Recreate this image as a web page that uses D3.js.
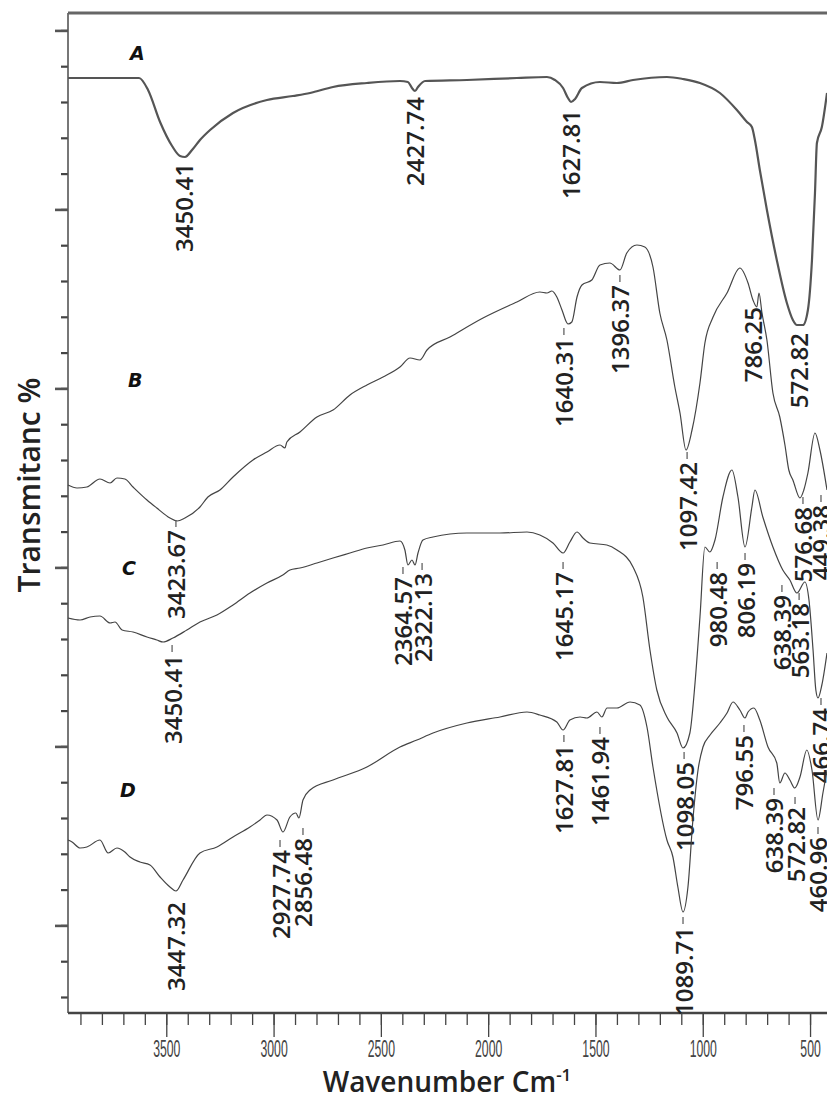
<!DOCTYPE html>
<html>
<head>
<meta charset="utf-8">
<script src="https://cdn.jsdelivr.net/npm/d3@7"></script>
<style>
  html, body { margin: 0; padding: 0; background: #fff; }
  svg { display: block; }
</style>
</head>
<body>
<svg id="chart"></svg>
<script>
// FTIR spectra, [wavenumber cm-1, transmittance (arbitrary, stacked)]
const spectrumA = [
  [3958, 93.5], [3627, 93.5], [3585, 92.3], [3529, 89.1], [3473, 86.7], [3436, 85.7],
  [3413, 85.6], [3380, 86.3], [3343, 87.3], [3296, 88.3], [3189, 90.0], [3031, 91.3],
  [2910, 91.7], [2830, 92.0], [2723, 92.6], [2565, 93.0], [2411, 93.2], [2374, 93.1],
  [2355, 92.5], [2341, 92.2], [2327, 92.6], [2294, 93.2], [2099, 93.3], [1866, 93.5],
  [1726, 93.6], [1689, 93.3], [1651, 92.5], [1628, 91.5], [1614, 91.1], [1595, 91.4],
  [1563, 92.5], [1479, 93.1], [1400, 93.0], [1325, 93.3], [1167, 93.6], [1092, 93.4],
  [1013, 93.0], [920, 92.0], [841, 90.3], [794, 89.1], [771, 88.6], [757, 87.3],
  [734, 84.3], [701, 80.3], [655, 75.3], [608, 71.0], [580, 69.3], [561, 68.8],
  [533, 68.8], [510, 70.3], [491, 75.3], [477, 82.0], [468, 87.0], [445, 88.6], [421, 92.0]
];
const spectrumB = [
  [3958, 52.8], [3916, 52.5], [3870, 52.6], [3809, 53.4], [3762, 53.0], [3730, 53.5],
  [3693, 53.4], [3655, 52.6], [3590, 51.3], [3544, 50.5], [3483, 49.5], [3450, 49.2],
  [3413, 49.5], [3343, 50.6], [3306, 51.6], [3250, 52.3], [3189, 53.6], [3096, 55.3],
  [3031, 56.1], [2970, 56.8], [2947, 56.5], [2938, 57.1], [2877, 58.1], [2798, 59.6],
  [2723, 60.3], [2644, 61.8], [2565, 62.8], [2490, 63.6], [2411, 64.6], [2364, 65.5],
  [2318, 65.3], [2285, 66.3], [2178, 67.6], [2024, 69.5], [1866, 71.1], [1759, 72.1],
  [1726, 72.0], [1703, 72.2], [1680, 71.6], [1656, 70.3], [1628, 68.9], [1610, 69.1],
  [1586, 71.6], [1563, 72.8], [1517, 73.3], [1479, 74.8], [1433, 75.0], [1386, 74.3],
  [1354, 76.0], [1307, 76.8], [1270, 76.6], [1232, 74.6], [1200, 70.0], [1167, 67.3],
  [1130, 62.6], [1106, 60.0], [1078, 56.3], [1050, 58.3], [1013, 63.0], [990, 67.0],
  [952, 69.6], [887, 72.0], [827, 74.5], [789, 73.0], [766, 71.3], [748, 70.6],
  [738, 72.0], [724, 70.0], [701, 67.3], [673, 62.0], [641, 59.6], [617, 56.8],
  [599, 54.3], [580, 53.3], [547, 51.5], [529, 52.3], [510, 54.0], [477, 58.0],
  [454, 56.3], [421, 52.3]
];
const spectrumC = [
  [3958, 39.5], [3902, 39.3], [3855, 39.6], [3809, 39.7], [3762, 39.0], [3739, 39.1],
  [3706, 38.3], [3655, 38.1], [3590, 37.6], [3544, 37.3], [3515, 37.1], [3469, 37.5],
  [3404, 38.3], [3343, 39.1], [3264, 39.8], [3189, 40.8], [3110, 42.0], [3031, 43.0],
  [2957, 43.8], [2924, 44.3], [2877, 44.5], [2798, 45.0], [2723, 45.5], [2644, 46.0],
  [2565, 46.5], [2490, 46.8], [2411, 47.2], [2388, 46.3], [2374, 44.8], [2355, 45.3],
  [2341, 44.8], [2327, 46.0], [2304, 47.3], [2257, 47.6], [2099, 48.0], [1945, 48.0],
  [1819, 48.1], [1759, 47.8], [1698, 47.0], [1651, 46.0], [1619, 47.1], [1586, 48.1],
  [1558, 47.5], [1526, 47.0], [1447, 46.8], [1400, 46.3], [1325, 44.6], [1279, 41.6],
  [1246, 36.3], [1214, 32.3], [1167, 29.6], [1120, 28.0], [1092, 26.5], [1060, 28.0],
  [1036, 33.0], [1013, 39.6], [990, 46.6], [967, 46.1], [943, 47.3], [906, 51.6],
  [864, 54.3], [836, 51.6], [803, 46.6], [771, 50.6], [757, 52.3], [720, 49.6],
  [673, 46.6], [627, 44.3], [594, 43.3], [561, 42.0], [524, 43.1], [505, 41.3],
  [486, 36.3], [473, 32.3], [463, 31.5], [445, 32.8], [421, 36.0]
];
const spectrumD = [
  [3958, 17.3], [3939, 17.1], [3902, 16.5], [3870, 16.6], [3809, 17.3], [3771, 16.0],
  [3730, 16.5], [3693, 16.1], [3669, 15.6], [3623, 15.1], [3576, 14.8], [3529, 13.6],
  [3483, 12.6], [3455, 12.2], [3422, 13.3], [3343, 16.0], [3264, 16.6], [3189, 17.6],
  [3110, 18.6], [3063, 19.3], [3031, 19.8], [2984, 19.3], [2956, 18.1], [2924, 19.6],
  [2896, 20.0], [2882, 19.5], [2863, 21.3], [2830, 22.3], [2723, 23.3], [2565, 24.6],
  [2411, 26.6], [2332, 27.3], [2257, 28.0], [2099, 29.0], [1945, 29.6], [1819, 30.1],
  [1759, 29.8], [1680, 29.1], [1651, 28.3], [1619, 29.3], [1572, 29.6], [1540, 29.5],
  [1493, 30.1], [1470, 29.6], [1446, 30.5], [1400, 30.5], [1339, 31.1], [1293, 30.8],
  [1260, 28.6], [1232, 24.6], [1167, 17.3], [1139, 15.6], [1116, 12.6], [1092, 10.1],
  [1069, 12.6], [1046, 19.3], [1022, 24.3], [999, 26.6], [966, 27.8], [920, 29.0],
  [887, 30.0], [859, 31.1], [827, 30.3], [803, 29.5], [789, 30.1], [762, 30.5],
  [734, 29.3], [696, 26.6], [655, 25.0], [641, 23.0], [617, 24.0], [594, 23.3],
  [571, 22.5], [547, 23.6], [515, 26.3], [491, 24.3], [463, 19.3], [440, 22.0], [421, 24.3]
];

// peak labels: [text, wavenumber position, transmittance at top of text, leader dash]
const peaksA = [
  ["3450.41", 3418, 85.0, false], ["2427.74", 2341, 91.6, false],
  ["1627.81", 1614, 90.3, false], ["572.82", 556, 68.0, false]
];
const peaksB = [
  ["3423.67", 3455, 48.3, true], ["1640.31", 1647, 67.5, true], ["1396.37", 1386, 72.8, true],
  ["1097.42", 1073, 55.1, true], ["786.25", 770, 70.6, false], ["576.68", 533, 50.6, true],
  ["449.38", 449, 50.8, true]
];
const peaksC = [
  ["3450.41", 3473, 35.8, true], ["2364.57", 2397, 43.6, true], ["2322.13", 2308, 44.0, true],
  ["1645.17", 1651, 44.1, true], ["1098.05", 1087, 25.1, true], ["980.48", 933, 44.1, true],
  ["806.19", 803, 45.0, true], ["638.39", 631, 41.8, true], ["563.18", 551, 41.0, true],
  ["466.74", 449, 30.5, true]
];
const peaksD = [
  ["3447.32", 3455, 11.1, false], ["2927.74", 2970, 16.3, true], ["2856.48", 2863, 17.5, true],
  ["1627.81", 1647, 26.8, true], ["1461.94", 1479, 27.6, true], ["1089.71", 1092, 8.6, true],
  ["796.55", 808, 27.8, true], ["638.39", 668, 21.5, true], ["572.82", 570, 20.6, true],
  ["460.96", 463, 17.6, true]
];

// sample names: [name, wavenumber, transmittance]
const sampleNames = [["A", 3669, 95.3], ["B", 3678, 62.6], ["C", 3706, 43.8], ["D", 3716, 21.6]];

const majorTicks = [3500, 3000, 2500, 2000, 1500, 1000, 500];
const minorTicks = d3.range(3900, 400, -100);

const svgWidth = 827, svgHeight = 1094;
const margin = { top: 13, right: 0, bottom: 81, left: 68 };
const width = svgWidth - margin.left - margin.right;
const height = svgHeight - margin.top - margin.bottom;

const svg = d3.select('#chart')
  .attr('width', svgWidth)
  .attr('height', svgHeight);

const g = svg.append('g')
  .attr('transform', 'translate(' + margin.left + ',' + margin.top + ')');

const x = d3.scaleLinear().domain([3958, 421]).range([0, width]);
const y = d3.scaleLinear().domain([0, 100]).range([height, 0]);

// y ticks, no labels (stacked curves)
const yTicks = d3.range(28).map(k => 1.6 + 3.58 * k);
const yMajor = yTicks.filter((d, i) => i % 5 === 2);

g.append('g')
  .call(d3.axisLeft(y).tickValues(yTicks).tickSize(7).tickFormat(''))
  .call(a => a.select('.domain').remove())
  .selectAll('line').attr('stroke', '#444').attr('stroke-width', 2.2);
g.append('g')
  .call(d3.axisLeft(y).tickValues(yMajor).tickSize(13).tickFormat(''))
  .call(a => a.select('.domain').remove())
  .selectAll('line').attr('stroke', '#555').attr('stroke-width', 2.6);

// frame: left and top
g.append('line').attr('x1', 0).attr('x2', 0).attr('y1', 0).attr('y2', height)
  .attr('stroke', '#555').attr('stroke-width', 1.6);
g.append('line').attr('x1', 0).attr('x2', width).attr('y1', 0).attr('y2', 0)
  .attr('stroke', '#666').attr('stroke-width', 2.8);

// x axis
g.append('g')
  .attr('transform', 'translate(0,' + height + ')')
  .call(d3.axisBottom(x).tickValues(minorTicks).tickSize(12).tickFormat(''))
  .call(a => a.select('.domain').remove())
  .selectAll('line').attr('stroke', '#444').attr('stroke-width', 1.3);

const xMajor = g.append('g')
  .attr('transform', 'translate(0,' + height + ')')
  .call(d3.axisBottom(x).tickValues(majorTicks).tickSize(24).tickPadding(4).tickFormat(d3.format('d')));
xMajor.select('.domain').remove();
xMajor.selectAll('line').attr('stroke', '#444').attr('stroke-width', 1.3);
xMajor.selectAll('text')
  .attr('fill', '#444')
  .attr('font-family', 'Liberation Sans Narrow, Liberation Sans, Arial, sans-serif')
  .attr('font-size', 24)
  .attr('y', 27)
  .attr('dy', '0.71em')
  .attr('textLength', d => String(d).length * 6.8)
  .attr('lengthAdjust', 'spacingAndGlyphs');

g.append('line').attr('x1', 0).attr('x2', width).attr('y1', height).attr('y2', height)
  .attr('stroke', '#444').attr('stroke-width', 2.6);

// spectra
const line = d3.line()
  .x(d => x(d[0]))
  .y(d => y(d[1]))
  .curve(d3.curveMonotoneX);

const series = [
  { data: spectrumA, peaks: peaksA, w: 2.2, c: '#555' },
  { data: spectrumB, peaks: peaksB, w: 1.2, c: '#444' },
  { data: spectrumC, peaks: peaksC, w: 1.2, c: '#444' },
  { data: spectrumD, peaks: peaksD, w: 1.2, c: '#444' }
];

series.forEach(s => {
  g.append('path')
    .datum(s.data)
    .attr('fill', 'none')
    .attr('stroke', s.c)
    .attr('stroke-width', s.w)
    .attr('stroke-linejoin', 'round')
    .attr('d', line);

  s.peaks.forEach(p => {
    const px = x(p[1]), py = y(p[2]);
    g.append('text')
      .attr('transform', 'translate(' + px + ',' + py + ') rotate(-90)')
      .attr('text-anchor', 'end')
      .attr('dominant-baseline', 'central')
      .attr('font-family', 'Open Sans, Noto Sans, sans-serif')
      .attr('font-weight', 600)
      .attr('font-size', 24)
      .attr('fill', '#222')
      .text(p[0]);
    if (p[3]) {
      g.append('line')
        .attr('x1', px).attr('x2', px)
        .attr('y1', py - 3).attr('y2', py - 10)
        .attr('stroke', '#555').attr('stroke-width', 1.2);
    }
  });
});

g.selectAll('.sample')
  .data(sampleNames)
  .enter().append('text')
  .attr('class', 'sample')
  .attr('x', d => x(d[1]))
  .attr('y', d => y(d[2]))
  .attr('font-family', 'DejaVu Sans, sans-serif')
  .attr('font-weight', 'bold')
  .attr('font-style', 'italic')
  .attr('font-size', 19)
  .attr('fill', '#111')
  .text(d => d[0]);

// axis titles
svg.append('text')
  .attr('transform', 'translate(28,485) rotate(-90)')
  .attr('text-anchor', 'middle')
  .attr('dominant-baseline', 'central')
  .attr('font-family', 'Open Sans, Noto Sans, sans-serif')
  .attr('font-weight', 600)
  .attr('font-size', 30)
  .attr('fill', '#222')
  .text('Transmitanc %');

const xt = svg.append('text')
  .attr('x', 447)
  .attr('y', 1092)
  .attr('text-anchor', 'middle')
  .attr('font-family', 'Open Sans, Noto Sans, sans-serif')
  .attr('font-weight', 600)
  .attr('font-size', 28)
  .attr('fill', '#222');
xt.append('tspan').text('Wavenumber  Cm');
xt.append('tspan').attr('dy', -11).attr('font-size', 17).text('-1');
</script>
</body>
</html>
